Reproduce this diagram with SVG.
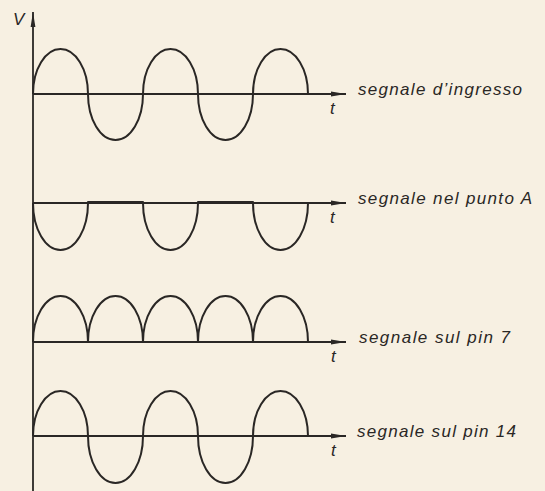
<svg xmlns="http://www.w3.org/2000/svg" width="545" height="491" viewBox="0 0 545 491">
<defs>
<marker id="arr" markerUnits="userSpaceOnUse" markerWidth="16" markerHeight="8" viewBox="0 0 16 8" refX="15" refY="4" orient="auto">
<path d="M0,1.6 L15,4 L0,6.4 Z" fill="#2a2725"/>
</marker>
<style>
.ax{stroke:#2a2725;stroke-width:1.8;fill:none}
.w{stroke:#2a2725;stroke-width:2;fill:none;stroke-linejoin:round}
.lbl{font-family:"Liberation Sans",Arial,sans-serif;font-style:italic;font-size:17px;fill:#2a2725}
.t{font-family:"Liberation Sans",Arial,sans-serif;font-style:italic;font-size:17px;fill:#2a2725}
</style>
</defs>
<rect x="0" y="0" width="545" height="491" fill="#f7f0e2"/>
<g id="connectors">
<line class="ax" x1="33" y1="491" x2="33" y2="12" marker-end="url(#arr)"/>
<line class="ax" x1="33" y1="94" x2="346" y2="94" marker-end="url(#arr)"/>
<line class="ax" x1="33" y1="203" x2="346" y2="203" marker-end="url(#arr)"/>
<line class="ax" x1="33" y1="342" x2="346" y2="342" marker-end="url(#arr)"/>
<line class="ax" x1="33" y1="436" x2="346" y2="436" marker-end="url(#arr)"/>
</g>
<g id="axis-label"><text class="t" x="13" y="25">V</text></g>
<g id="plot1">
<path class="w" d="M33,94 A27.5,45 0 0 1 88,94 A27.5,46 0 0 0 143,94 A27.5,45 0 0 1 198,94 A27.5,46 0 0 0 253,94 A27.5,45 0 0 1 308,94"/>
<text class="t" x="330" y="114">t</text>
<text class="lbl" x="358" y="95" textLength="164" lengthAdjust="spacing">segnale d’ingresso</text>
</g>
<g id="plot2">
<path class="w" d="M33,203 A27.5,47 0 0 0 88,203 L88,202 H143 L143,203 A27.5,47 0 0 0 198,203 L198,202 H253 L253,203 A27.5,47 0 0 0 308,203"/>
<text class="t" x="330" y="223">t</text>
<text class="lbl" x="358" y="204" textLength="174" lengthAdjust="spacing">segnale nel punto A</text>
</g>
<g id="plot3">
<path class="w" d="M33,342 A27.5,46 0 0 1 88,342 A27.5,46 0 0 1 143,342 A27.5,46 0 0 1 198,342 A27.5,46 0 0 1 253,342 A27.5,46 0 0 1 308,342"/>
<text class="t" x="331" y="362">t</text>
<text class="lbl" x="359" y="343" textLength="151" lengthAdjust="spacing">segnale sul pin 7</text>
</g>
<g id="plot4">
<path class="w" d="M33,436 A27.5,45 0 0 1 88,436 A27.5,47 0 0 0 143,436 A27.5,45 0 0 1 198,436 A27.5,47 0 0 0 253,436 A27.5,45 0 0 1 308,436"/>
<text class="t" x="331" y="456">t</text>
<text class="lbl" x="357" y="437" textLength="159" lengthAdjust="spacing">segnale sul pin 14</text>
</g>
</svg>
